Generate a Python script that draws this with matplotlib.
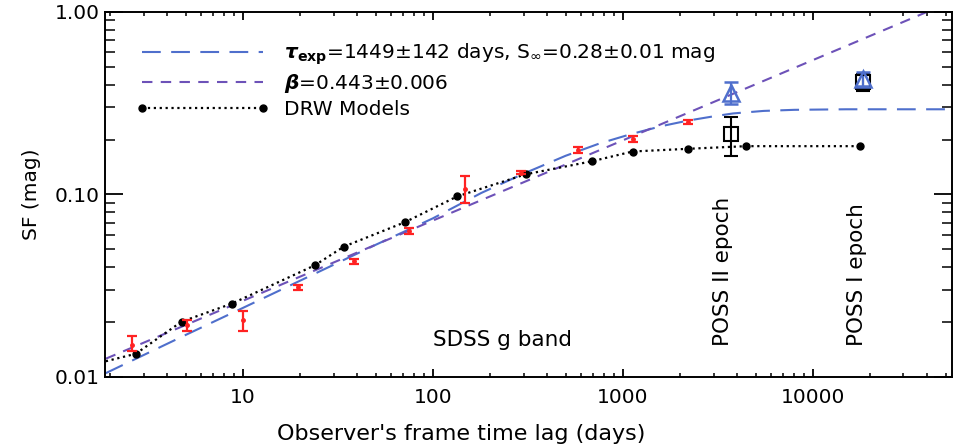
import numpy as np
import matplotlib
matplotlib.use('Agg')
import matplotlib.pyplot as plt
from matplotlib.ticker import FixedLocator, LogLocator, NullFormatter

plt.rcParams['font.family'] = ['DejaVu Sans']
plt.rcParams['mathtext.fontset'] = 'dejavusans'

# SDSS g band structure function (red)
sdss_lag = [2.6, 5.09, 10.0, 19.5, 38.5, 75.2, 147, 290, 578, 1125, 2190]
sdss_sf = [0.0150, 0.0192, 0.0204, 0.0310, 0.0430, 0.0632, 0.1065, 0.1316, 0.175, 0.202, 0.2497]
sdss_lo = [0.0012, 0.0013, 0.0026, 0.0010, 0.0012, 0.0021, 0.0170, 0.0025, 0.007, 0.007, 0.006]
sdss_hi = [0.0017, 0.0014, 0.0027, 0.0010, 0.0012, 0.0023, 0.0195, 0.0025, 0.008, 0.007, 0.006]

# DRW models (black dots)
drw_lag = [1.9, 2.73, 4.76, 8.72, 23.9, 34.0, 71.3, 134, 308, 687, 1125, 2210, 4470, 17800]
drw_sf = [0.0122, 0.0134, 0.0201, 0.0252, 0.0409, 0.0518, 0.0705, 0.0975, 0.129, 0.152, 0.172, 0.178, 0.184, 0.184]

# exponential fit (blue long dash)
exp_lag = [1.9, 5, 10, 20, 50, 100, 180, 300, 500, 750, 1100, 1600, 2200, 3000, 3800, 5500, 8000, 15000, 54000]
exp_sf = [0.0105, 0.0170, 0.0239, 0.0337, 0.053, 0.074, 0.102, 0.130, 0.163, 0.190, 0.214, 0.237,
          0.254, 0.268, 0.278, 0.287, 0.291, 0.293, 0.293]

# power law fit (purple dash)
pow_lag = [1.9, 39800]
pow_sf = [0.0126, 1.0]

# POSS epochs
poss_lag = [3700, 18300]
poss_tri = [0.362, 0.430]
poss_tri_err = [0.050, 0.037]
poss_sq = [0.215, 0.415]
poss_sq_err = [0.052, 0.045]

blue = '#4f6fcc'
purple = '#6d52b8'
red = '#ff2222'

fig = plt.figure(figsize=(9.62, 4.47), dpi=100)
ax = fig.add_axes([0.1091, 0.1566, 0.8805, 0.8166])
ax.set_xscale('log')
ax.set_yscale('log')
ax.set_xlim(1.88, 54000)
ax.set_ylim(0.01, 1.0)

ax.plot(exp_lag, exp_sf, color=blue, lw=1.5, dashes=(9, 5),
        label=r'$\mathbfit{\tau}_{\mathbf{exp}}$=1449$\pm$142 days, S$_\infty$=0.28$\pm$0.01 mag')
ax.plot(pow_lag, pow_sf, color=purple, lw=1.5, dashes=(5, 4),
        label=r'$\mathbfit{\beta}$=0.443$\pm$0.006')
ax.plot(drw_lag[1:], drw_sf[1:], color='black', lw=1.6, ls=':', marker='o', ms=5,
        label='DRW Models')
ax.plot(drw_lag[:2], drw_sf[:2], color='black', lw=1.6, ls=':')

ax.errorbar(sdss_lag, sdss_sf, yerr=[sdss_lo, sdss_hi], fmt='o', ms=2.5, color=red,
            ecolor=red, elinewidth=1.6, capsize=3.5, capthick=1.6)

ax.errorbar(poss_lag, poss_sq, yerr=poss_sq_err, fmt='s', ms=10, mfc='none', mec='black',
            mew=1.5, color='black', elinewidth=1.5, capsize=5, capthick=1.5)
ax.errorbar(poss_lag, poss_tri, yerr=poss_tri_err, fmt='^', ms=11, mfc='none', mec=blue,
            mew=1.8, color=blue, elinewidth=1.6, capsize=5, capthick=1.6)

ax.text(100, 0.0148, 'SDSS g band', fontsize=15.5, ha='left', va='baseline')
ax.text(3360, 0.0148, 'POSS II epoch', fontsize=15.5, rotation=90, ha='center', va='bottom')
ax.text(17000, 0.0148, 'POSS I epoch', fontsize=15.5, rotation=90, ha='center', va='bottom')

ax.set_xlabel("Observer's frame time lag (days)", fontsize=16)
ax.xaxis.set_label_coords(0.42, -0.128)
ax.set_ylabel('SF (mag)', fontsize=14.5, labelpad=10)

ax.xaxis.set_major_locator(FixedLocator([10, 100, 1000, 10000]))
ax.set_xticklabels(['10', '100', '1000', '10000'])
ax.xaxis.set_minor_locator(LogLocator(base=10, subs=np.arange(2, 10)))
ax.xaxis.set_minor_formatter(NullFormatter())
ax.yaxis.set_major_locator(FixedLocator([0.01, 0.1, 1.0]))
ax.set_yticklabels(['0.01', '0.10', '1.00'])
ax.yaxis.set_minor_locator(LogLocator(base=10, subs=np.arange(2, 10)))
ax.yaxis.set_minor_formatter(NullFormatter())

ax.tick_params(axis='both', which='both', direction='in', top=True, right=True, labelsize=14.5)
ax.tick_params(axis='x', which='major', length=6, width=1.3, pad=8)
ax.tick_params(axis='x', which='minor', length=3, width=1.1)
ax.tick_params(axis='y', which='major', length=13, width=1.3, pad=4)
ax.tick_params(axis='y', which='minor', length=7, width=1.1)
for s in ax.spines.values():
    s.set_linewidth(1.4)

ax.legend(loc='upper left', bbox_to_anchor=(0.027, 0.94), frameon=False, fontsize=14.5,
          handlelength=6.6, handletextpad=0.75, labelspacing=0.24, numpoints=2, borderaxespad=0)

fig.savefig('out.png', dpi=100)
